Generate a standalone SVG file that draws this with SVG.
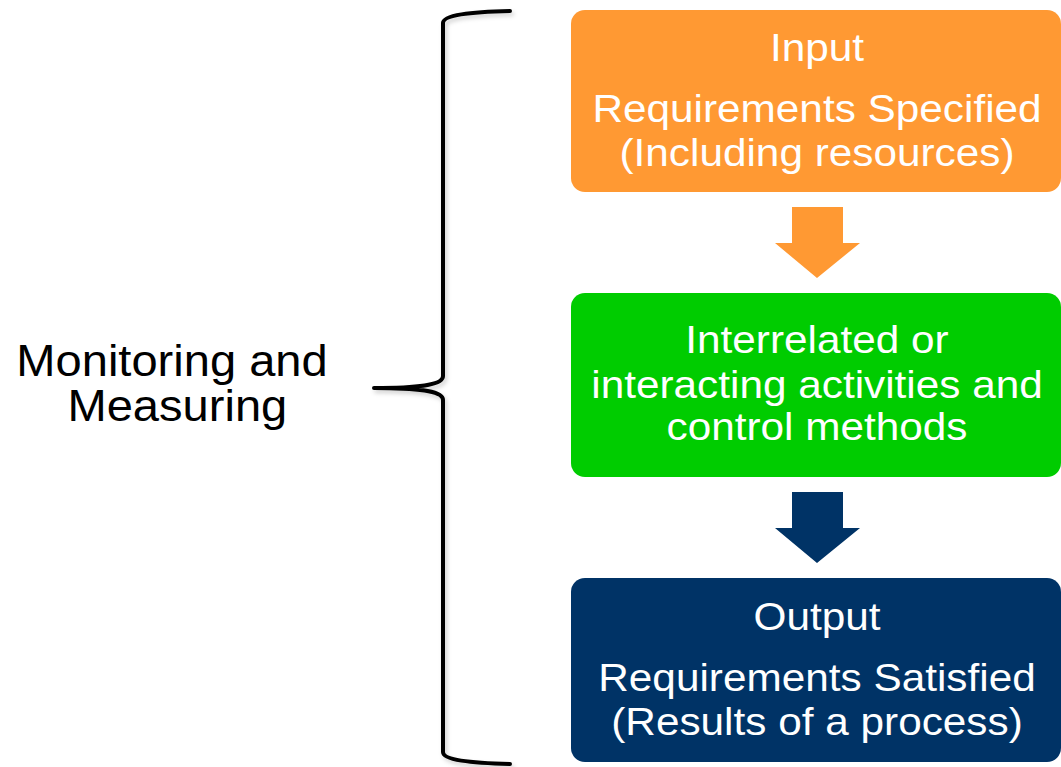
<svg xmlns="http://www.w3.org/2000/svg" width="1061" height="767" viewBox="0 0 1061 767">
<style>
.box-text{font-family:"Liberation Sans",Arial,sans-serif;font-size:39px;fill:#ffffff;text-anchor:middle}
.side-text{font-family:"Liberation Sans",Arial,sans-serif;font-size:44px;fill:#000000;text-anchor:middle}
.bracket{fill:none;stroke:#000;stroke-width:4;stroke-linecap:round;stroke-linejoin:round}
</style>
<defs>
<filter id="shadow" x="-20%" y="-5%" width="140%" height="110%">
<feDropShadow dx="2" dy="3" stdDeviation="2" flood-color="#000" flood-opacity="0.18"/>
</filter>
</defs>
<rect width="1061" height="767" fill="#ffffff"/>
<g id="bracket">
<path class="bracket" filter="url(#shadow)" d="M510,11 C470,12 443,15 443,23 V376 C443,384 425,388 374,388 C425,388 443,392 443,400 V752 C443,760 470,763 510,764"/>
</g>
<g id="label-monitoring">
<g transform="translate(172,0) scale(1.07,1)">
<text class="side-text" x="0" y="376">Monitoring and</text>
<text class="side-text" x="5" y="421">Measuring</text>
</g>
</g>
<g id="node-input">
<rect x="571" y="10" width="490" height="182" rx="14" fill="#FF9933"/>
<g transform="translate(817,0) scale(1.085,1)">
<text class="box-text" x="0" y="61">Input</text>
<text class="box-text" x="0" y="122">Requirements Specified</text>
<text class="box-text" x="0" y="166">(Including resources)</text>
</g>
</g>
<g id="node-process">
<rect x="571" y="293" width="490" height="184" rx="14" fill="#00CC00"/>
<g transform="translate(817,0) scale(1.085,1)">
<text class="box-text" x="0" y="353">Interrelated or</text>
<text class="box-text" x="0" y="398">interacting activities and</text>
<text class="box-text" x="0" y="440">control methods</text>
</g>
</g>
<g id="node-output">
<rect x="571" y="578" width="490" height="184" rx="14" fill="#003366"/>
<g transform="translate(817,0) scale(1.085,1)">
<text class="box-text" x="0" y="630">Output</text>
<text class="box-text" x="0" y="691">Requirements Satisfied</text>
<text class="box-text" x="0" y="735">(Results of a process)</text>
</g>
</g>
<g id="connectors">
<polygon points="792,207 843,207 843,243 860,243 817,278 775,243 792,243" fill="#FF9933"/>
<polygon points="792,492 843,492 843,528 860,528 817,563 775,528 792,528" fill="#003366"/>
</g>
</svg>
